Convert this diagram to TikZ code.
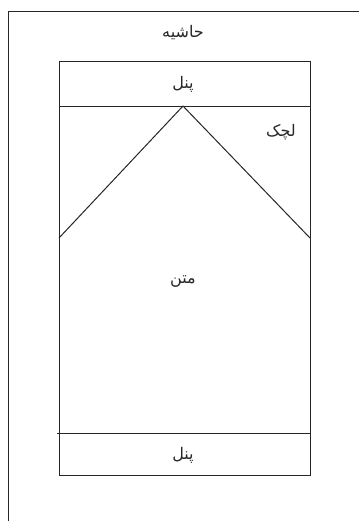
\documentclass[tikz,border=0pt]{standalone}
\usepackage{fontspec}
\newfontfamily\arabicfont[Script=Arabic]{DejaVu Sans}
\TeXXeTstate=1
\begin{document}
\begin{tikzpicture}[x=1pt,y=-1pt,
  frame/.style={draw=black!85,line width=1pt},
  lbl/.style={font=\arabicfont\fontsize{16}{18}\selectfont,inner sep=1pt,text=black!85}]
\useasboundingbox (0,0) rectangle (359,522);
% outer margin frame (cropped)
\coordinate (ob) at (8,521);
\coordinate (ot) at (8,11);
\coordinate (or) at (359,11);
\draw[frame] (ob) -- (ot) -- (or);
% page
\coordinate (tl) at (59,61);
\coordinate (br) at (310,475);
\draw[frame] (tl) rectangle (br);
% header line
\coordinate (hl) at (59,106);
\coordinate (hr) at (310,106);
\draw[frame] (hl) -- (hr);
% footer line
\coordinate (fl) at (57,433);
\coordinate (fr) at (310,433);
\draw[frame] (fl) -- (fr);
% chevron
\coordinate (apex) at (183,106);
\coordinate (cl) at (59,238);
\coordinate (cr) at (310,238);
\draw[frame] (cl) -- (apex) -- (cr);
% labels
\node[lbl] (hashie) at (183,33) {\beginR حاشیه\endR};
\node[lbl] (panel1) at (183,84) {\beginR پنل\endR};
\node[lbl] (lachak) at (281,132) {\beginR لچک\endR};
\node[lbl] (matn) at (183,282) {\beginR متن\endR};
\node[lbl] (panel2) at (183,455) {\beginR پنل\endR};
\end{tikzpicture}
\end{document}
